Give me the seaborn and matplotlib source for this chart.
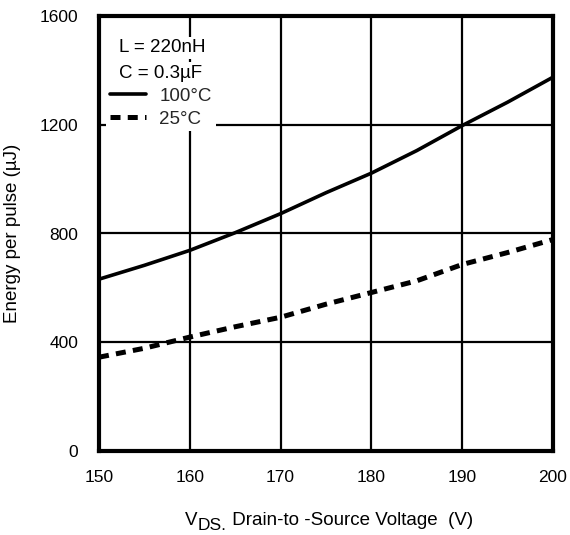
import matplotlib
matplotlib.use("Agg")
import matplotlib.pyplot as plt
import seaborn as sns
import pandas as pd
from matplotlib.lines import Line2D

# ---- data ----
vds = [150, 155, 160, 165, 170, 175, 180, 185, 190, 195, 200]
energy_100c = [632, 683, 738, 803, 873, 950, 1022, 1105, 1197, 1283, 1375]
energy_25c = [345, 378, 419, 457, 492, 540, 583, 626, 686, 730, 778]
series_labels = ["100°C", "25°C"]
x_ticks = [150, 160, 170, 180, 190, 200]
y_ticks = [0, 400, 800, 1200, 1600]
note_lines = ["L = 220nH", "C = 0.3µF"]
xlabel_parts = ["V", "DS.", " Drain-to -Source Voltage  (V)"]
ylabel_text = "Energy per pulse (µJ)"

df = pd.DataFrame({
    "vds": vds * 2,
    "energy": energy_100c + energy_25c,
    "temp": [series_labels[0]] * len(vds) + [series_labels[1]] * len(vds),
})

sns.set_theme(style="white")
plt.rcParams["font.family"] = ["Liberation Sans", "DejaVu Sans"]

W, H = 570, 535
fig = plt.figure(figsize=(W / 100, H / 100), dpi=100)
ax = fig.add_axes([99 / W, 84 / H, (553 - 99) / W, (451 - 16) / H])

dash_style = (2.0, 1.45)
sns.lineplot(data=df, x="vds", y="energy", hue="temp", style="temp",
             palette={series_labels[0]: "black", series_labels[1]: "black"},
             dashes={series_labels[0]: "", series_labels[1]: dash_style},
             legend=False, ax=ax, zorder=3)
lines = ax.get_lines()
lines[0].set_linewidth(2.6)
lines[1].set_linewidth(3.6)

ax.set_xlim(150, 200)
ax.set_ylim(0, 1600)
ax.set_xticks(x_ticks)
ax.set_yticks(y_ticks)
ax.grid(True, color="black", linewidth=1.6)
ax.set_axisbelow(True)
for s in ax.spines.values():
    s.set_linewidth(3.0)
    s.set_color("black")
    s.set_zorder(5)
ax.tick_params(axis="both", length=0, labelsize=12.5, colors="black")
ax.tick_params(axis="y", pad=15)
ax.tick_params(axis="x", pad=14)

ax.set_xlabel("")
ax.set_ylabel(ylabel_text, fontsize=13.5, labelpad=13, color="black")

# notes (L, C)
px2ax = ax.transAxes.inverted()
for i, t in enumerate(note_lines):
    px_y = 48 + 25 * i
    xa, ya = px2ax.transform((119, H - px_y))
    ax.text(xa, ya, t, transform=ax.transAxes, fontsize=13.5, va="center", ha="left",
            color="black", zorder=6,
            bbox=dict(facecolor="white", edgecolor="none", pad=2))

handles = [Line2D([], [], color="black", lw=2.6),
           Line2D([], [], color="black", lw=3.6, dashes=dash_style)]
leg_x, leg_y = px2ax.transform((106, H - 84))
leg = ax.legend(handles, series_labels, loc="upper left", bbox_to_anchor=(leg_x, leg_y),
                fontsize=13.5, frameon=True, facecolor="white", edgecolor="none",
                framealpha=1, fancybox=False, handlelength=1.95, handletextpad=0.7,
                borderpad=0.2, borderaxespad=0, labelspacing=0.3)
leg.set_zorder(6)

# x label with a lowered subscript, built from text pieces
fig.canvas.draw()
r = fig.canvas.get_renderer()
base_y = H - 525  # baseline in pixels from bottom
sizes = [13.5, 12.5, 13.5]
offsets = [0, -5, 0]
pieces = []
for txt, fs, off in zip(xlabel_parts, sizes, offsets):
    t = fig.text(0, (base_y + off) / H, txt, fontsize=fs, ha="left", va="baseline",
                 color="black")
    pieces.append(t)
widths = [p.get_window_extent(r).width for p in pieces]
total = sum(widths)
center = (99 + 553) / 2 + 3
x0 = center - total / 2
for p, w in zip(pieces, widths):
    p.set_x(x0 / W)
    x0 += w

fig.savefig("out.png", dpi=100, facecolor="white")
